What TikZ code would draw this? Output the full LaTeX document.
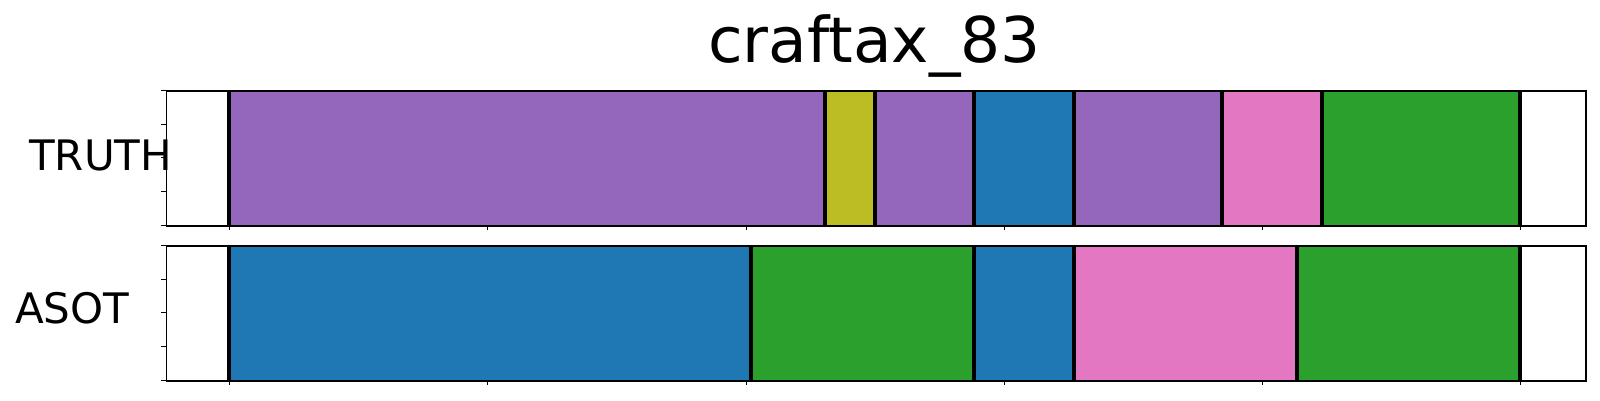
\documentclass[tikz,border=0pt]{standalone}
\usepackage{fontspec}
\setmainfont{DejaVu Sans}
\definecolor{tabpurple}{HTML}{9467BD}
\definecolor{tabolive}{HTML}{BCBD22}
\definecolor{tabblue}{HTML}{1F77B4}
\definecolor{tabpink}{HTML}{E377C2}
\definecolor{tabgreen}{HTML}{2CA02C}
\tikzset{
  seg/.style={fill=#1, draw=#1!85!black, line width=0.8pt},
  bound/.style={draw=black, line width=4.2pt},
  spine/.style={draw=black, line width=1.3pt},
  tickmark/.style={draw=black, line width=1pt},
  lbl/.style={inner sep=0pt, anchor=base west, font=\fontsize{42}{46}\selectfont},
}
\begin{document}
\begin{tikzpicture}[x=1pt,y=-1pt]
\useasboundingbox (0,0) rectangle (1600,400);
% title
\node[inner sep=0pt, anchor=base, font=\fontsize{63}{70}\selectfont] (title) at (874.5,62.7) {craftax\_83};
% labels
\node[lbl] (truth) at (29,170) {TRUTH};
\node[lbl] (asot) at (15,323.3) {ASOT};
% top segments
\def\ta{90.3}\def\tb{225.3}
\foreach \a/\b/\c in {229/825/tabpurple,825/875/tabolive,875/974/tabpurple,974/1074/tabblue,1074/1222/tabpurple,1222/1322/tabpink,1322/1520/tabgreen}
  {\path[seg=\c] (\a,\ta) rectangle (\b,\tb);}
\foreach \x in {229,825,875,974,1074,1222,1322,1520}
  {\path[bound] (\x,\ta) -- (\x,\tb);}
% bottom segments
\def\ba{245.3}\def\bb{380.3}
\foreach \a/\b/\c in {229/751/tabblue,751/974/tabgreen,974/1074/tabblue,1074/1297/tabpink,1297/1520/tabgreen}
  {\path[seg=\c] (\a,\ba) rectangle (\b,\bb);}
\foreach \x in {229,751,974,1074,1297,1520}
  {\path[bound] (\x,\ba) -- (\x,\bb);}
% axes frames
\node[spine, inner sep=0pt, minimum width=1419.6pt, minimum height=135pt, anchor=north west] (topax) at (165.7,90.3) {};
\node[spine, inner sep=0pt, minimum width=1419.6pt, minimum height=135pt, anchor=north west] (botax) at (165.7,245.3) {};
% y ticks
\foreach \y in {0,33.75,67.5,101.25,135}
  {\path[tickmark] (165.7,90.3+\y) -- (160.8,90.3+\y);
   \path[tickmark] (165.7,245.3+\y) -- (160.8,245.3+\y);}
% x ticks
\foreach \x in {229,487.3,746.3,1004.3,1262.3,1520.3}
  {\path[tickmark] (\x,225.3) -- (\x,230);
   \path[tickmark] (\x,380.3) -- (\x,385);}
\end{tikzpicture}
\end{document}
